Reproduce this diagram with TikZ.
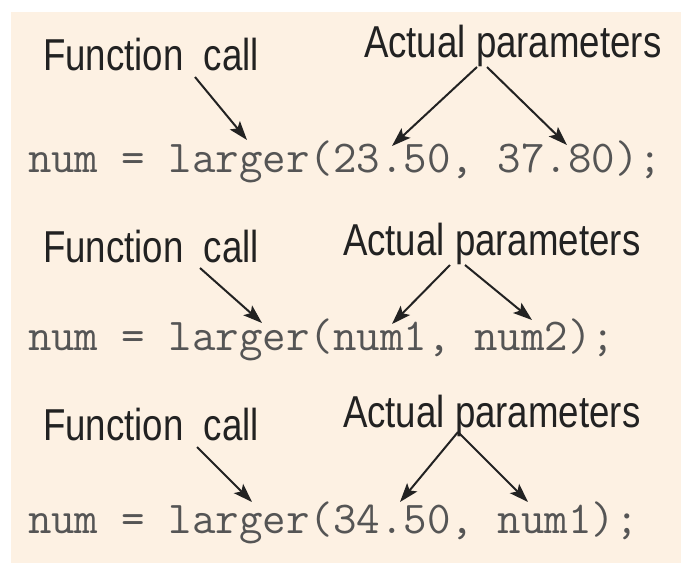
\documentclass[tikz,border=0pt]{standalone}
\usepackage{fontspec}
\setmainfont{Liberation Sans}
\newfontfamily\labelfont[FakeStretch=0.82]{Liberation Sans}
\usetikzlibrary{arrows.meta}
\definecolor{paper}{HTML}{FDF1E3}
\definecolor{ink}{HTML}{222222}
\definecolor{codeink}{HTML}{555555}
\tikzset{
  lbl/.style={anchor=base west,inner sep=0pt,text=ink,font=\labelfont\fontsize{44.7}{50}\selectfont},
  code/.style={anchor=base west,inner sep=0pt,text=codeink,font=\ttfamily\fontsize{45.6}{50}\selectfont},
}
\begin{document}
\begin{tikzpicture}[x=1pt,y=-1pt,>={Stealth[length=19pt,width=13pt,inset=4pt]},line width=2pt]
  \useasboundingbox (0,0) rectangle (681,563);
  \fill[paper] (11,12) rectangle (681,563);
  % first call
  \coordinate (fc1s) at (195,77);
  \coordinate (fc1t) at (247,140);
  \coordinate (ap1a) at (477,67);
  \coordinate (ap1b) at (487,67);
  \coordinate (ap1l) at (392,146);
  \coordinate (ap1r) at (567,145);
  \draw[->,ink] (fc1s)--(fc1t);
  \draw[->,ink] (ap1a)--(ap1l);
  \draw[->,ink] (ap1b)--(ap1r);
  \node[lbl] (fc1) at (42,70) {Function\ \ call};
  \node[lbl] (ap1) at (363,57) {Actual parameters};
  \node[code] (call1) at (27,172) {num = larger(23.50, 37.80);};
  % second call
  \coordinate (fc2s) at (200,268);
  \coordinate (fc2t) at (262,323);
  \coordinate (ap2a) at (450,265);
  \coordinate (ap2b) at (465,265);
  \coordinate (ap2l) at (392,324);
  \coordinate (ap2r) at (532,320);
  \draw[->,ink] (fc2s)--(fc2t);
  \draw[->,ink] (ap2a)--(ap2l);
  \draw[->,ink] (ap2b)--(ap2r);
  \node[lbl] (fc2) at (42,262) {Function\ \ call};
  \node[lbl] (ap2) at (342,255) {Actual parameters};
  \node[code] (call2) at (27,350) {num = larger(num1, num2);};
  % third call
  \coordinate (fc3s) at (197,447);
  \coordinate (fc3t) at (252,502);
  \coordinate (ap3a) at (458,432);
  \coordinate (ap3l) at (400,502);
  \coordinate (ap3r) at (528,502);
  \draw[->,ink] (fc3s)--(fc3t);
  \draw[->,ink] (ap3a)--(ap3l);
  \draw[->,ink] (ap3a)--(ap3r);
  \node[lbl] (fc3) at (42,440) {Function\ \ call};
  \node[lbl] (ap3) at (342,427) {Actual parameters};
  \node[code] (call3) at (27,533) {num = larger(34.50, num1);};
\end{tikzpicture}
\end{document}
